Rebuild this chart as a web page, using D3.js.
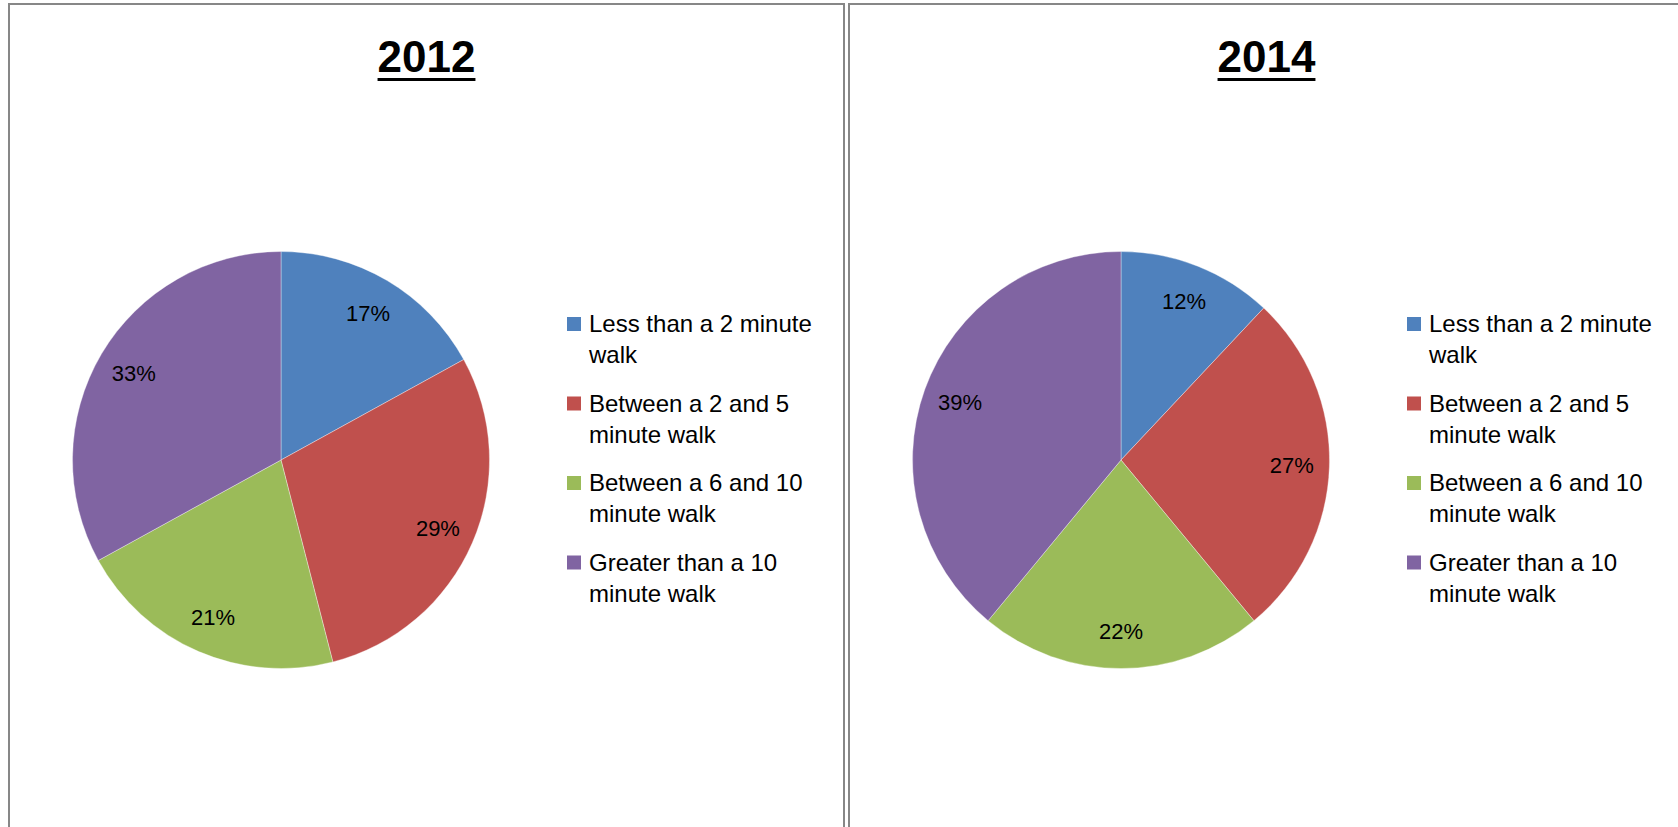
<!DOCTYPE html>
<html>
<head>
<meta charset="utf-8">
<script src="https://cdn.jsdelivr.net/npm/d3@7"></script>
<style>
  body { margin: 0; background: #fff; }
  svg { display: block; }
</style>
</head>
<body>
<div id="chart"></div>
<script>
// categories shared by both pies
var categories = [
  "Less than a 2 minute walk",
  "Between a 2 and 5 minute walk",
  "Between a 6 and 10 minute walk",
  "Greater than a 10 minute walk"
];
var colors = ["#4F81BD", "#C0504D", "#9BBB59", "#8064A2"];

var years = ["2012", "2014"];
var values2012 = [17, 29, 21, 33];
var values2014 = [12, 27, 22, 39];
var seriesValues = [values2012, values2014];

var width = 1678, height = 827;
var panelW = 835, panelTop = 4;
var panelLeft = [9, 849];

var svg = d3.select("#chart").append("svg")
    .attr("width", width)
    .attr("height", height);

var color = d3.scaleOrdinal().domain(categories).range(colors);

var pie = d3.pie()
    .value(function(d) { return d.value; })
    .sort(null);

var radius = 208.5;
var arc = d3.arc().innerRadius(0).outerRadius(radius);
var labelArc = d3.arc().innerRadius(radius * 0.82).outerRadius(radius * 0.82);

// wrap a legend label into lines no wider than maxW
function wrap(textSel, maxW, lineH) {
  textSel.each(function() {
    var text = d3.select(this),
        words = text.text().split(/\s+/),
        x = text.attr("x"),
        line = [],
        lineNo = 0,
        tspan = text.text(null).append("tspan").attr("x", x).attr("dy", 0);
    words.forEach(function(w) {
      line.push(w);
      tspan.text(line.join(" "));
      if (tspan.node().getComputedTextLength() > maxW && line.length > 1) {
        line.pop();
        tspan.text(line.join(" "));
        line = [w];
        lineNo++;
        tspan = text.append("tspan").attr("x", x).attr("dy", lineH).text(w);
      }
    });
  });
}

years.forEach(function(year, yi) {
  var g = svg.append("g")
      .attr("transform", "translate(" + panelLeft[yi] + "," + panelTop + ")");

  // panel frame
  g.append("rect")
      .attr("x", 0).attr("y", 0)
      .attr("width", panelW).attr("height", height + 20)
      .attr("fill", "none")
      .attr("stroke", "#878787")
      .attr("stroke-width", 2);

  // title with underline
  var title = g.append("text")
      .attr("x", panelW / 2)
      .attr("y", 68)
      .attr("text-anchor", "middle")
      .style("font-family", "'Liberation Sans', Arial, sans-serif")
      .style("font-weight", "bold")
      .style("font-size", "44px")
      .style("fill", "#000")
      .text(year);
  var tw = title.node().getComputedTextLength();
  g.append("rect")
      .attr("x", panelW / 2 - tw / 2)
      .attr("y", 74)
      .attr("width", tw)
      .attr("height", 3)
      .attr("fill", "#000");

  var data = categories.map(function(c, i) {
    return { name: c, value: seriesValues[yi][i] };
  });
  var total = d3.sum(data, function(d) { return d.value; });

  var pg = g.append("g")
      .attr("transform", "translate(" + 272 + "," + 456 + ")");

  var slices = pg.selectAll(".slice")
      .data(pie(data))
    .enter().append("g")
      .attr("class", "slice");

  slices.append("path")
      .attr("d", arc)
      .attr("fill", function(d) { return color(d.data.name); })
      .attr("stroke", "#fff")
      .attr("stroke-width", 0.6)
      .attr("stroke-opacity", 0.6);

  slices.append("text")
      .attr("transform", function(d) { return "translate(" + labelArc.centroid(d) + ")"; })
      .attr("dy", "0.35em")
      .attr("text-anchor", "middle")
      .style("font-family", "'Liberation Sans', Arial, sans-serif")
      .style("font-size", "22px")
      .style("fill", "#000")
      .text(function(d) { return Math.round(d.data.value / total * 100) + "%"; });

  // legend
  var lg = g.append("g")
      .attr("transform", "translate(558," + 328 + ")");

  var items = lg.selectAll(".item")
      .data(categories)
    .enter().append("g")
      .attr("class", "item")
      .attr("transform", function(d, i) { return "translate(0," + (i * 79.5) + ")"; });

  items.append("rect")
      .attr("x", 0)
      .attr("y", -15)
      .attr("width", 14)
      .attr("height", 14)
      .attr("fill", function(d) { return color(d); });

  items.append("text")
      .attr("x", 22)
      .attr("y", 0)
      .style("font-family", "'Liberation Sans', Arial, sans-serif")
      .style("font-size", "24px")
      .style("fill", "#000")
      .text(function(d) { return d; })
      .call(wrap, 240, 31);
});
</script>
</body>
</html>
